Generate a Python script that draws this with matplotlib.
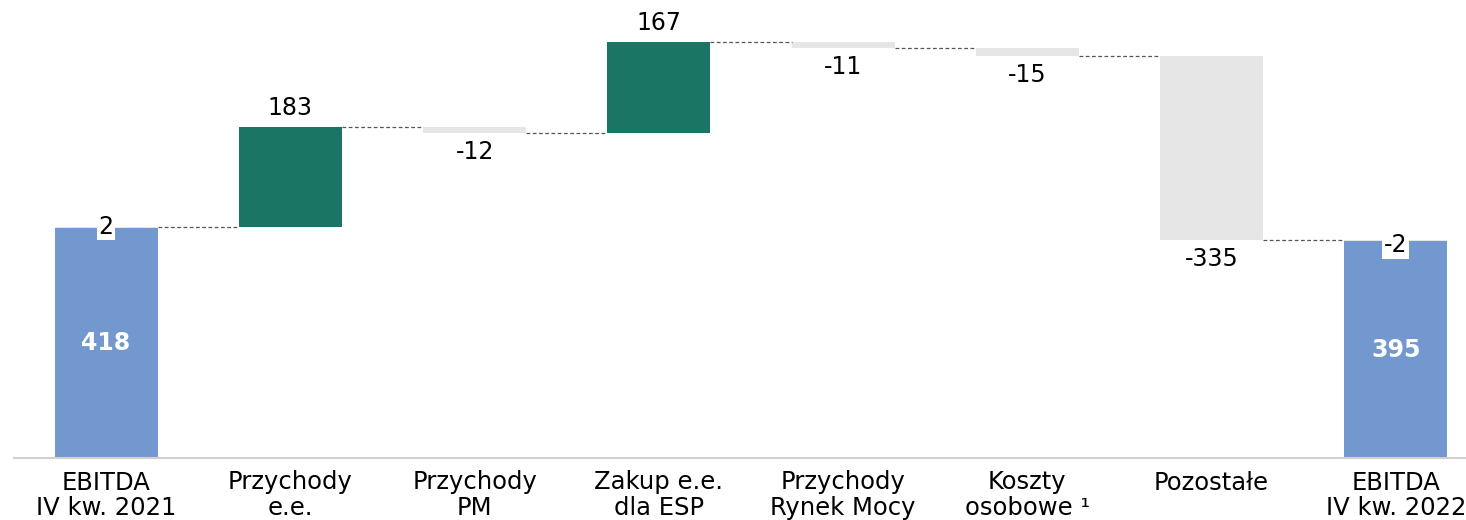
import numpy as np
import matplotlib.pyplot as plt
import matplotlib as mpl

mpl.rcParams["font.family"] = ["DejaVu Sans"]

# ---------------------------------------------------------------- data
categories = ["EBITDA\nIV kw. 2021", "Przychody\ne.e.", "Przychody\nPM",
              "Zakup e.e.\ndla ESP", "Przychody\nRynek Mocy",
              "Koszty\nosobowe \u00b9", "Pozostałe", "EBITDA\nIV kw. 2022"]
start_value = 418
start_adj = 2
changes = [183, -12, 167, -11, -15, -335]
end_adj = -2
end_value = 395

BLUE = "#7398cf"
GREEN = "#1b7565"
GREY = "#e6e6e6"
CONN = "#555555"

# ---------------------------------------------------------------- figure
fig = plt.figure(figsize=(14.66, 5.2), dpi=100)
ax = fig.add_axes([14 / 1466, 1 - 458 / 520, 1474 / 1466, 458 / 520])
W = 0.56
x = np.arange(len(categories))

level = start_value + start_adj
tops = [level]
ax.bar(x[0], start_value, W, color=BLUE)
ax.bar(x[0], start_adj, W, bottom=start_value, color=GREY)
for i, d in enumerate(changes, start=1):
    col = GREEN if d > 0 else GREY
    ax.bar(x[i], d, W, bottom=level, color=col)
    level += d
    tops.append(level)
ax.bar(x[-1], end_value, W, color=BLUE)
ax.bar(x[-1], -end_adj, W, bottom=end_value, color=GREY)

# connectors
for i, lv in enumerate(tops):
    ax.plot([x[i] + W / 2, x[i + 1] - W / 2], [lv, lv], color=CONN,
            lw=0.9, ls=(0, (3, 2)), zorder=1)

# labels
FS = 17
off = 19 / 0.549
lv = start_value + start_adj
for i, d in enumerate(changes, start=1):
    if d > 0:
        ax.text(x[i], lv + d + off, f"{d}", ha="center", va="center", fontsize=FS)
    else:
        ax.text(x[i], lv + d - off, f"{d}", ha="center", va="center", fontsize=FS)
    lv += d

ax.text(x[0], start_value + start_adj + 1, f"{start_adj}", ha="center", va="center",
        fontsize=FS, bbox=dict(facecolor="white", edgecolor="none", pad=1.2))
ax.text(x[-1], end_value - 7, f"{end_adj}", ha="center", va="center",
        fontsize=FS, bbox=dict(facecolor="white", edgecolor="none", pad=1.2))
ax.text(x[0], start_value / 2, f"{start_value}", ha="center", va="center",
        fontsize=FS, color="white", fontweight="bold")
ax.text(x[-1], end_value / 2, f"{end_value}", ha="center", va="center",
        fontsize=FS, color="white", fontweight="bold")

ax.set_xlim(-0.5, len(categories) - 0.5)
ax.set_ylim(0, 834)
for s in ["top", "right", "left"]:
    ax.spines[s].set_visible(False)
ax.spines["bottom"].set_color("#d0d0d0")
ax.spines["bottom"].set_linewidth(1.5)
ax.set_yticks([])
ax.set_xticks(x)
ax.set_xticklabels(categories, fontsize=17.5, linespacing=1.08)
ax.tick_params(axis="x", length=0, pad=9)

fig.savefig("out.png", dpi=100)
